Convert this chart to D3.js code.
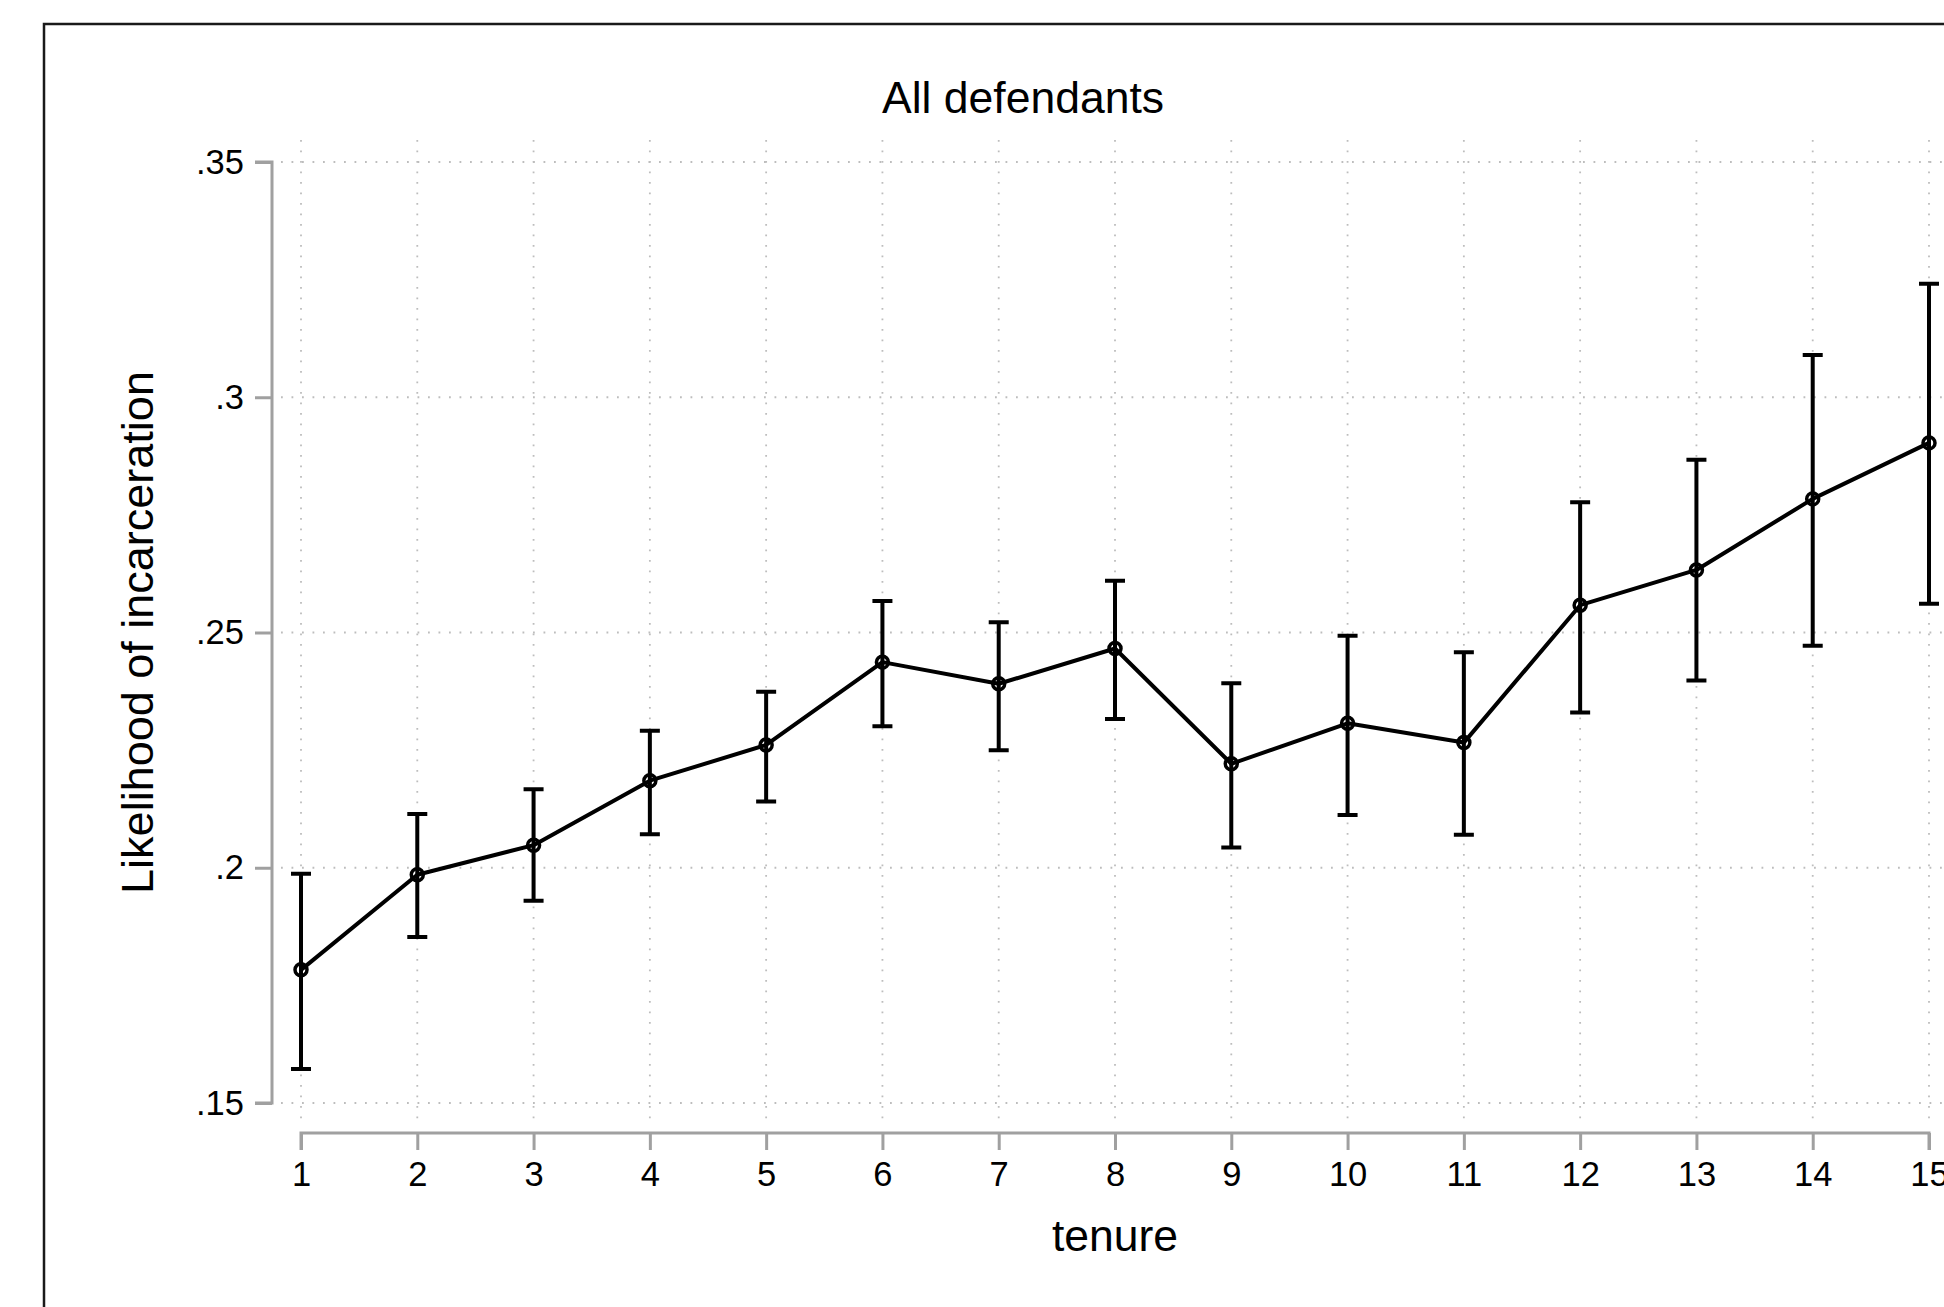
<!DOCTYPE html>
<html>
<head>
<meta charset="utf-8">
<script src="https://cdn.jsdelivr.net/npm/d3@7"></script>
<style>
  body { margin: 0; background: #fff; }
  svg { display: block; font-family: "Liberation Sans", Arial, Helvetica, sans-serif; }
</style>
</head>
<body>
<div id="chart"></div>
<script>
// values
var tenure = [1, 2, 3, 4, 5, 6, 7, 8, 9, 10, 11, 12, 13, 14, 15];
var estimate = [0.1783, 0.1985, 0.2048, 0.2185, 0.2261, 0.2437, 0.2391, 0.2466, 0.2221, 0.2307, 0.2266, 0.2558, 0.2633, 0.2784, 0.2903];
var upper = [0.1987, 0.2114, 0.2167, 0.2291, 0.2374, 0.2567, 0.2522, 0.2610, 0.2392, 0.2493, 0.2458, 0.2777, 0.2867, 0.3090, 0.3241];
var lower = [0.1572, 0.1853, 0.1930, 0.2071, 0.2141, 0.2301, 0.2250, 0.2316, 0.2043, 0.2112, 0.2070, 0.2330, 0.2398, 0.2472, 0.2561];
var yTicks = [0.15, 0.2, 0.25, 0.3, 0.35];
var yTickLabels = [".15", ".2", ".25", ".3", ".35"];

var W = 1944, H = 1307;
var axisGrey = "#a0a0a0", gridGrey = "#bdbdbd";

var svg = d3.select("#chart").append("svg")
    .attr("width", W).attr("height", H);

// outer graph frame (runs off the right and bottom edge)
svg.append("rect")
    .attr("x", 44).attr("y", 24)
    .attr("width", 2100).attr("height", 1500)
    .attr("fill", "none").attr("stroke", "#1a1a1a").attr("stroke-width", 2.5);

var x = d3.scaleLinear().domain([1, 15]).range([301, 1929]);
var y = d3.scaleLinear().domain([0.15, 0.35]).range([1103, 162]);

var data = tenure.map(function(t, i) {
    return {t: t, est: estimate[i], hi: upper[i], lo: lower[i]};
});

// dotted grid
var grid = svg.append("g");
grid.selectAll(".hgrid").data(yTicks).enter().append("line")
    .attr("x1", 281).attr("x2", W + 40)
    .attr("y1", function(d) { return y(d); })
    .attr("y2", function(d) { return y(d); })
    .attr("stroke", gridGrey).attr("stroke-width", 1.8)
    .attr("stroke-dasharray", "1.8,8.7");
grid.selectAll(".vgrid").data(tenure).enter().append("line")
    .attr("x1", function(d) { return x(d); })
    .attr("x2", function(d) { return x(d); })
    .attr("y1", 140).attr("y2", 1122)
    .attr("stroke", gridGrey).attr("stroke-width", 1.8)
    .attr("stroke-dasharray", "1.8,8.7");

// y axis
var yAxis = svg.append("g")
    .attr("transform", "translate(272,0)")
    .call(d3.axisLeft(y).tickValues(yTicks).tickSize(17).tickPadding(11)
        .tickFormat(function(d, i) { return yTickLabels[i]; }));
yAxis.select(".domain").attr("stroke", axisGrey).attr("stroke-width", 3)
    .attr("d", "M-17," + y(0.35) + "H0V" + y(0.15) + "H-17");
yAxis.selectAll(".tick line").attr("stroke", axisGrey).attr("stroke-width", 3);
yAxis.selectAll(".tick text")
    .attr("font-size", 34.5).attr("fill", "#000")
    .attr("font-family", "'Liberation Sans', Arial, sans-serif");

// x axis
var xAxis = svg.append("g")
    .attr("transform", "translate(0,1133)")
    .call(d3.axisBottom(x).tickValues(tenure).tickSize(17).tickPadding(12)
        .tickFormat(d3.format("d")));
xAxis.select(".domain").attr("stroke", axisGrey).attr("stroke-width", 3)
    .attr("d", "M" + x(1) + ",17V0H" + x(15) + "V17");
xAxis.selectAll(".tick line").attr("stroke", axisGrey).attr("stroke-width", 3);
xAxis.selectAll(".tick text")
    .attr("font-size", 34.5).attr("fill", "#000")
    .attr("font-family", "'Liberation Sans', Arial, sans-serif");

// error bars
var bars = svg.append("g").attr("stroke", "#000").attr("stroke-width", 4);
bars.selectAll(".ci").data(data).enter().append("path")
    .attr("fill", "none")
    .attr("d", function(d) {
        var cx = x(d.t), c = 10;
        return "M" + (cx - c) + "," + y(d.hi) + "H" + (cx + c) +
            "M" + cx + "," + y(d.hi) + "V" + y(d.lo) +
            "M" + (cx - c) + "," + y(d.lo) + "H" + (cx + c);
    });

// connecting line
var line = d3.line()
    .x(function(d) { return x(d.t); })
    .y(function(d) { return y(d.est); });
svg.append("path").datum(data)
    .attr("d", line)
    .attr("fill", "none").attr("stroke", "#000").attr("stroke-width", 4)
    .attr("stroke-linejoin", "round");

// hollow markers
svg.append("g").selectAll("circle").data(data).enter().append("circle")
    .attr("cx", function(d) { return x(d.t); })
    .attr("cy", function(d) { return y(d.est); })
    .attr("r", 6)
    .attr("fill", "none").attr("stroke", "#000").attr("stroke-width", 3.5);

// titles
svg.append("text")
    .attr("x", 1023).attr("y", 113)
    .attr("text-anchor", "middle").attr("font-size", 44.5)
    .text("All defendants");
svg.append("text")
    .attr("x", 1115).attr("y", 1251)
    .attr("text-anchor", "middle").attr("font-size", 44.5)
    .text("tenure");
svg.append("text")
    .attr("transform", "translate(153," + y(0.25) + ") rotate(-90)")
    .attr("text-anchor", "middle").attr("font-size", 45)
    .text("Likelihood of incarceration");
</script>
</body>
</html>
